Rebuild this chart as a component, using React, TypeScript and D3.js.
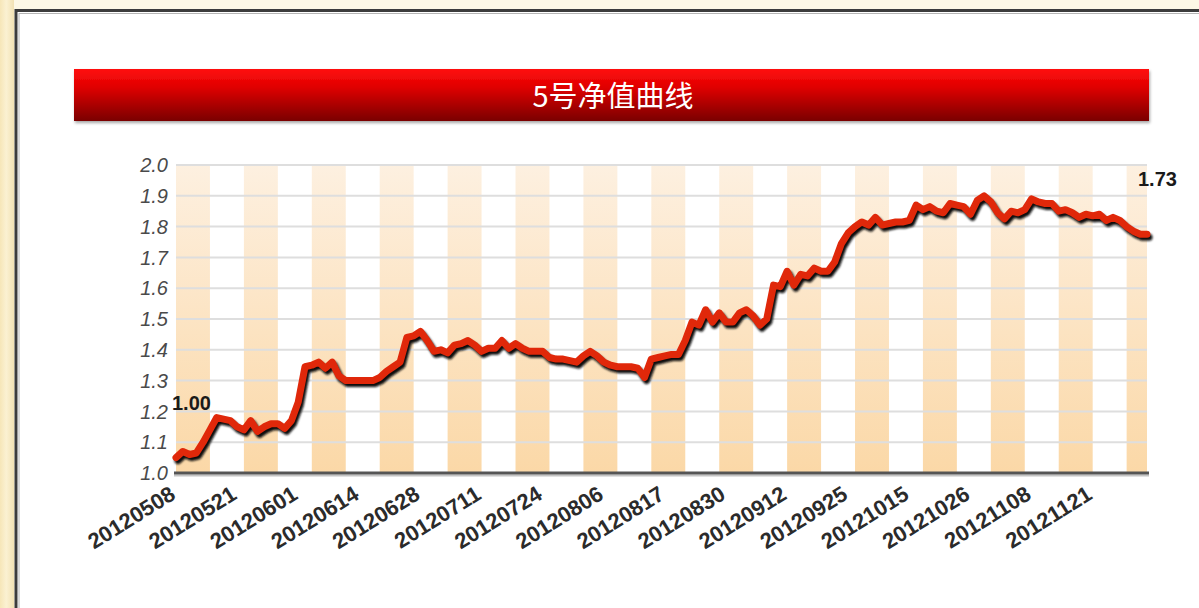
import React from "react";
import * as d3 from "d3";

// net value series, one point per trading day (20120508 .. 20121203)
const navValues = [
  1.05, 1.07, 1.06, 1.065, 1.10, 1.14, 1.18, 1.175, 1.17, 1.15,
  1.14, 1.17, 1.135, 1.15, 1.16, 1.16, 1.145, 1.17, 1.23, 1.345,
  1.35, 1.36, 1.34, 1.36, 1.315, 1.30, 1.30, 1.30, 1.30, 1.30,
  1.31, 1.33, 1.345, 1.36, 1.44, 1.445, 1.46, 1.43, 1.395, 1.40,
  1.39, 1.415, 1.42, 1.43, 1.415, 1.395, 1.405, 1.405, 1.43, 1.405,
  1.42, 1.405, 1.395, 1.395, 1.395, 1.375, 1.37, 1.37, 1.365, 1.36,
  1.38, 1.395, 1.38, 1.36, 1.35, 1.345, 1.345, 1.345, 1.34, 1.31,
  1.37, 1.375, 1.38, 1.385, 1.385, 1.43, 1.49, 1.48, 1.53, 1.49,
  1.52, 1.49, 1.49, 1.52, 1.53, 1.51, 1.48, 1.50, 1.61, 1.605,
  1.655, 1.61, 1.645, 1.64, 1.665, 1.655, 1.655, 1.685, 1.745, 1.78,
  1.80, 1.815, 1.805, 1.83, 1.805, 1.81, 1.815, 1.815, 1.82, 1.87,
  1.855, 1.865, 1.85, 1.845, 1.875, 1.87, 1.865, 1.84, 1.885, 1.90,
  1.88, 1.845, 1.825, 1.85, 1.845, 1.855, 1.89, 1.88, 1.875, 1.875,
  1.85, 1.855, 1.845, 1.83, 1.84, 1.835, 1.84, 1.82, 1.83, 1.82,
  1.80, 1.785, 1.775, 1.775,
];

// a date label every 9 trading days
const tickLabels = [
  "20120508", "20120521", "20120601", "20120614", "20120628", "20120711", "20120724",
  "20120806", "20120817", "20120830", "20120912", "20120925", "20121015", "20121026",
  "20121108", "20121121",
];
const tickEvery = 9;
const stripeEvery = 5;

const yTicks = [1.0, 1.1, 1.2, 1.3, 1.4, 1.5, 1.6, 1.7, 1.8, 1.9, 2.0];

const annotations = [
  { index: 0, text: "1.00" },
  { index: navValues.length - 1, text: "1.73" },
];

const title = "5号净值曲线";

const W = 1199;
const H = 608;
const margin = { left: 176, right: 52, top: 165, bottom: 135 };

export default function App() {
  const n = navValues.length;
  const x = d3.scaleLinear().domain([0, n - 1]).range([margin.left, W - margin.right]);
  const y = d3.scaleLinear().domain([1, 2]).range([H - margin.bottom, margin.top]);

  const line = d3.line<number>()
    .x((d, i) => x(i))
    .y((d) => y(d))
    .curve(d3.curveLinear);

  // beige bands every 5 points
  const stripes = [];
  for (let k = 0; k * stripeEvery < n - 1; k += 2) {
    const a = k * stripeEvery;
    const b = Math.min((k + 1) * stripeEvery, n - 1);
    stripes.push([a, b]);
  }

  const font = "'Liberation Sans', Arial, sans-serif";

  return (
    <div style={{ position: "absolute", left: 0, top: 0 }}>
      <svg width={W} height={H} style={{ display: "block" }}>
        <defs>
          <linearGradient id="side" x1="0" x2="1" y1="0" y2="0">
            <stop offset="0%" stopColor="#f6e6b8" />
            <stop offset="45%" stopColor="#fbf1d2" />
            <stop offset="100%" stopColor="#f2e2b4" />
          </linearGradient>
          <linearGradient id="bar" x1="0" x2="0" y1="0" y2="1">
            <stop offset="0%" stopColor="#ff1010" />
            <stop offset="35%" stopColor="#e00000" />
            <stop offset="100%" stopColor="#7a0000" />
          </linearGradient>
          <linearGradient id="band" x1="0" x2="0" y1="0" y2="1">
            <stop offset="0%" stopColor="#fdf0e0" />
            <stop offset="100%" stopColor="#fbd8a7" />
          </linearGradient>
          <filter id="barShadow" x="-5%" y="-30%" width="110%" height="170%">
            <feDropShadow dx="1" dy="2" stdDeviation="1.5" floodColor="#000" floodOpacity="0.35" />
          </filter>
          <filter id="blur" x="-5%" y="-10%" width="110%" height="120%">
            <feGaussianBlur stdDeviation="0.9" />
          </filter>
        </defs>

        {/* page frame */}
        <rect x={0} y={0} width={W} height={H} fill="#fdf8e6" />
        <rect x={0} y={0} width={14} height={H} fill="url(#side)" />
        <rect x={16} y={10.5} width={W} height={H} fill="#fff" stroke="#3c3c3c" strokeWidth={3} />
        <rect x={19} y={13.5} width={W} height={H} fill="none" stroke="#b5b5b5" strokeWidth={1} />

        {/* title bar */}
        <rect x={74} y={69} width={1075} height={52} fill="url(#bar)" filter="url(#barShadow)" />
        <text x={613} y={107} textAnchor="middle" fill="#fff" fontSize={29}
          fontFamily="'Noto Sans CJK SC', sans-serif">{title}</text>

        {/* bands */}
        {stripes.map(([a, b], i) => (
          <rect key={i} x={x(a)} y={y(2)} width={x(b) - x(a)} height={y(1) - y(2)} fill="url(#band)" />
        ))}

        {/* grid */}
        {yTicks.filter((t) => t > 1).map((t) => (
          <line key={t} x1={x(0)} x2={x(n - 1)} y1={y(t)} y2={y(t)} stroke="#dedede" strokeWidth={2} />
        ))}
        <line x1={x(0) - 2} x2={x(n - 1) + 2} y1={y(1) + 2.5} y2={y(1) + 2.5} stroke="#c4c4c4" strokeWidth={2} />
        <line x1={x(0) - 2} x2={x(n - 1) + 2} y1={y(1)} y2={y(1)} stroke="#555" strokeWidth={3} />

        {/* y labels */}
        {yTicks.map((t) => (
          <text key={t} x={168} y={y(t)} dy="0.36em" textAnchor="end" fontStyle="italic"
            fontSize={20} fill="#4a4a4a" fontFamily={font}>{t.toFixed(1)}</text>
        ))}

        {/* x labels */}
        {tickLabels.map((lab, i) => {
          const idx = i * tickEvery;
          if (idx > n - 1) return null;
          return (
            <text key={lab} transform={`translate(${x(idx) + 1},${y(1) + 25}) rotate(-32)`}
              textAnchor="end" fontWeight="bold" fontSize={22} fill="#2b2b2b" fontFamily={font}>{lab}</text>
          );
        })}

        {/* line */}
        <path d={line(navValues)} transform="translate(2,3)" fill="none" stroke="#111" strokeWidth={7}
          strokeLinejoin="round" strokeLinecap="round" filter="url(#blur)" />
        <path d={line(navValues)} fill="none" stroke="#e0280a" strokeWidth={7}
          strokeLinejoin="round" strokeLinecap="round" />

        {/* end labels */}
        {annotations.map((a, i) => (
          <text key={a.text} x={x(a.index) + (i === 0 ? -4 : -9)} y={y(navValues[a.index]) - 48}
            fontWeight="bold" fontSize={20} fill="#1a1a1a" fontFamily={font}>{a.text}</text>
        ))}
      </svg>
    </div>
  );
}
